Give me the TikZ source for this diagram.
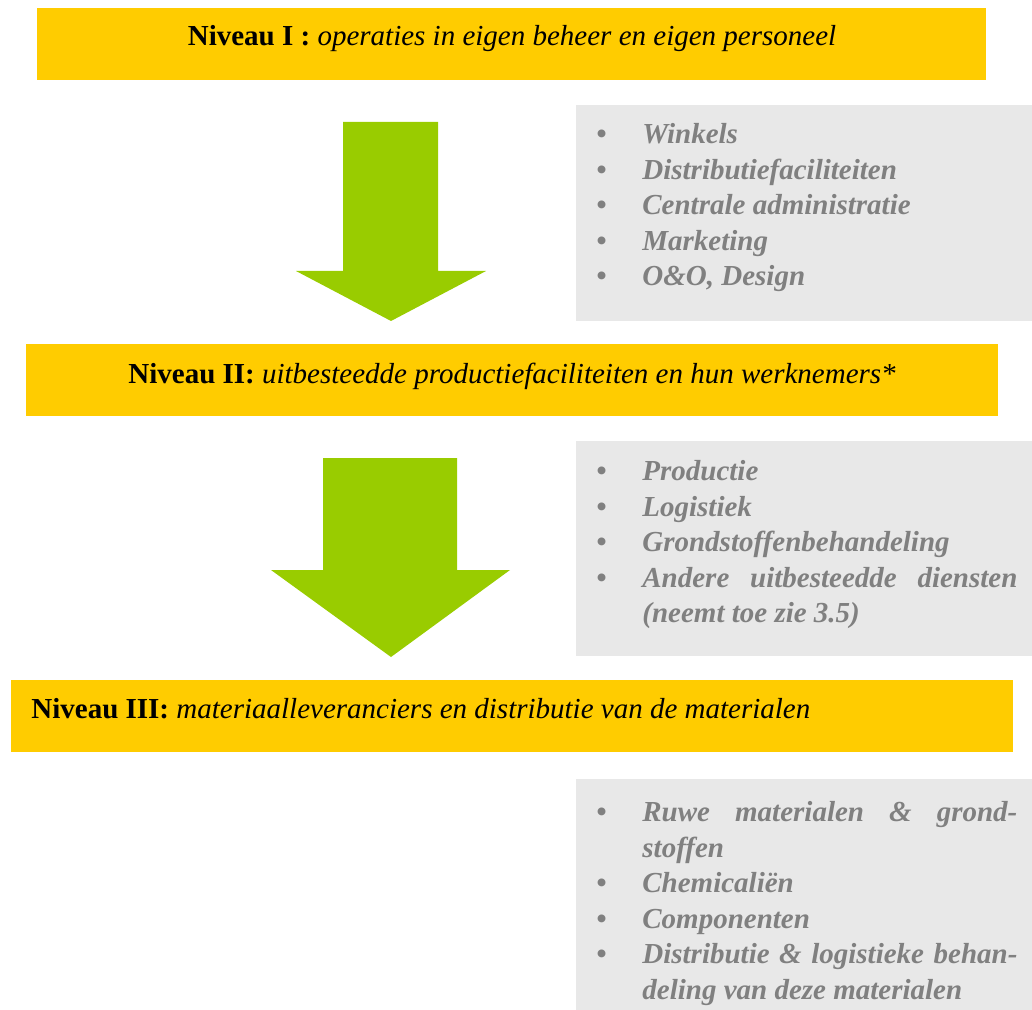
\documentclass[tikz,border=0pt]{standalone}
\usepackage{fontspec}
\setmainfont{Liberation Serif}
\usepackage{xcolor}
\usepackage{tikz}
\definecolor{niveau}{RGB}{255,204,0}
\definecolor{pijl}{RGB}{153,204,0}
\definecolor{lijstgrijs}{RGB}{232,232,232}
\definecolor{tekstgrijs}{RGB}{128,128,128}
\newcommand{\bul}{\makebox[23pt][l]{\textbullet}}
\newcommand{\vervolg}{\hspace*{23pt}}

\begin{document}
\begin{tikzpicture}[
    x=0.5pt, y=-0.5pt,
    levelbox/.style={rectangle, fill=niveau, inner sep=0pt, minimum height=36pt},
    leveltext/.style={inner sep=0pt, font=\fontsize{14.5pt}{17.75pt}\selectfont},
    listbox/.style={rectangle, fill=lijstgrijs, inner sep=0pt, minimum width=228pt},
    listtext/.style={inner sep=0pt, anchor=north west, align=left, text=tekstgrijs, font=\fontsize{14.5pt}{17.75pt}\selectfont\bfseries\itshape},
    arrowshape/.style={fill=pijl}
]
    \useasboundingbox (0,0) rectangle (1032,1010);

    \node[levelbox, minimum width=474.5pt] (levelI) at (511.5,44) {};
    \node[levelbox, minimum width=486pt] (levelII) at (512,380) {};
    \node[levelbox, minimum width=501pt] (levelIII) at (512,716) {};

    \node[leveltext, anchor=base] (levelItext) at (512,46) {\textbf{Niveau I :} \textit{operaties in eigen beheer en eigen personeel}};
    \node[leveltext, anchor=base] (levelIItext) at (512,383) {\textbf{Niveau II:} \textit{uitbesteedde productiefaciliteiten en hun werknemers*}};
    \node[leveltext, anchor=base west] (levelIIItext) at (31,718) {\textbf{Niveau III:} \textit{materiaalleveranciers en distributie van de materialen}};

    \node[listbox, minimum height=108pt] (listI) at (804,213) {};
    \node[listbox, minimum height=107.5pt] (listII) at (804,548.5) {};
    \node[listbox, minimum height=115.5pt] (listIII) at (804,894.5) {};

    \node[listtext] (listItext) at (596,123) {\bul Winkels\\ \bul Distributiefaciliteiten\\ \bul Centrale administratie\\ \bul Marketing\\ \bul O\&O, Design};
    \node[listtext] (listIItext) at (596,460) {\bul Productie\\ \bul Logistiek\\ \bul Grondstoffenbehandeling\\ \bul \makebox[187.5pt][s]{Andere uitbesteedde diensten}\\ \vervolg (neemt toe zie 3.5)};
    \node[listtext] (listIIItext) at (596,801) {\bul \makebox[187.5pt][s]{Ruwe materialen \& grond-}\\ \vervolg stoffen\\ \bul Chemicaliën\\ \bul Componenten\\ \bul \makebox[187.5pt][s]{Distributie \& logistieke behan-}\\ \vervolg deling van deze materialen};

    \fill[arrowshape] (343,122) -- (438,122) -- (438,271) -- (486,271) -- (391,321) -- (296,271) -- (343,271) -- cycle;
    \fill[arrowshape] (323,458) -- (457,458) -- (457,570) -- (510,570) -- (391,657) -- (271,570) -- (323,570) -- cycle;
\end{tikzpicture}
\end{document}
